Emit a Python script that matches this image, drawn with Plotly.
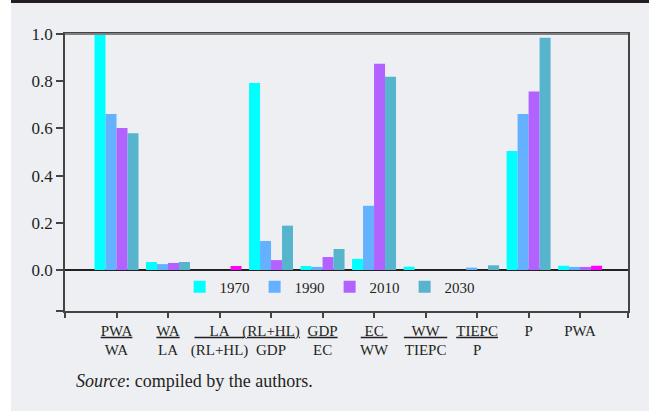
import plotly.graph_objects as go

# ---- data ----
categories = ["PWA/WA", "WA/LA", "LA/(RL+HL)", "(RL+HL)/GDP", "GDP/EC",
              "EC/WW", "WW/TIEPC", "TIEPC/P", "P", "PWA"]
tick_labels = [
    "<u>PWA</u><br>WA",
    "<u>WA</u><br>LA",
    "<u>&nbsp;&nbsp;&nbsp;&nbsp;LA&nbsp;&nbsp;&nbsp;&nbsp;</u><br>(RL+HL)",
    "<u>(RL+HL)</u><br>GDP",
    "<u>GDP</u><br>EC",
    "<u>&nbsp;EC&nbsp;</u><br>WW",
    "<u>&nbsp;&nbsp;WW&nbsp;&nbsp;</u><br>TIEPC",
    "<u>TIEPC</u><br>P",
    "P",
    "PWA",
]
years = ["1970", "1990", "2010", "2030"]
v1970 = [1.000, 0.034, 0.000, 0.792, 0.017, 0.047, 0.014, 0.000, 0.504, 0.018]
v1990 = [0.661, 0.025, 0.000, 0.123, 0.013, 0.272, 0.000, 0.010, 0.661, 0.013]
v2010 = [0.602, 0.030, 0.000, 0.042, 0.055, 0.874, 0.000, 0.000, 0.756, 0.013]
v2030 = [0.579, 0.034, 0.017, 0.188, 0.089, 0.819, 0.000, 0.020, 0.984, 0.018]
series = [v1970, v1990, v2010, v2030]
y_ticks = [0.0, 0.2, 0.4, 0.6, 0.8, 1.0]

# ---- style ----
colors = ["#00FFFF", "#63B1FF", "#B262FF", "#56B4CD"]
highlight = "#FF00FF"
highlight_idx = [2, 9]      # bars of the 2030 series drawn in magenta
bg = "#EEEFF3"
ink = "#231F20"
FONT = "Liberation Serif, Times New Roman, serif"

W, H = 649, 411
L, R, T, B = 65, 628, 34, 311
ymin = -0.1737
xmax = 10.93

xpos = list(range(1, len(categories) + 1))

fig = go.Figure()
for k, (name, vals) in enumerate(zip(years, series)):
    if k == 3:
        mc = [highlight if i in highlight_idx else colors[k] for i in range(len(vals))]
    else:
        mc = colors[k]
    fig.add_trace(go.Bar(x=xpos, y=vals, name=name,
                         marker=dict(color=mc, line=dict(width=0))))

def px_x(px):
    return (px - L) / (R - L)

def px_y(py):
    return (B - py) / (B - T)

shapes = [
    # grey page panel
    dict(type="rect", xref="paper", yref="paper", layer="below",
         x0=px_x(11), x1=px_x(W + 2), y0=px_y(H + 2), y1=px_y(3),
         fillcolor=bg, line=dict(width=0)),
    # top dark rule
    dict(type="rect", xref="paper", yref="paper", layer="below",
         x0=px_x(11), x1=px_x(W + 2), y0=px_y(3), y1=px_y(0),
         fillcolor=ink, line=dict(width=0)),
    # grey top frame line
    dict(type="line", xref="paper", yref="paper", layer="above",
         x0=0, x1=1, y0=1, y1=1, line=dict(color="#808080", width=2)),
]

fig.update_layout(
    width=W, height=H,
    margin=dict(l=L, r=W - R, t=T, b=H - B, autoexpand=False),
    paper_bgcolor="white",
    plot_bgcolor=bg,
    barmode="group", bargap=0.146, bargroupgap=0,
    font=dict(family=FONT, size=15, color=ink),
    showlegend=True,
    legend=dict(orientation="h", x=0.47, xanchor="center",
                y=px_y(287), yanchor="middle",
                bgcolor="rgba(0,0,0,0)", font=dict(size=15, color=ink),
                itemwidth=30, traceorder="normal"),
    shapes=shapes,
    annotations=[dict(text="<i>Source</i>: compiled by the authors.",
                      xref="paper", yref="paper", x=px_x(74), y=px_y(381),
                      xanchor="left", yanchor="middle", showarrow=False,
                      font=dict(family=FONT, size=18, color=ink))],
)

fig.update_xaxes(
    range=[0, xmax], tickmode="array",
    tickvals=[0] + xpos + [xmax], ticktext=[""] + tick_labels + [""],
    tickangle=0, automargin=False,
    ticks="outside", ticklen=5, tickcolor="#444", tickwidth=1.5,
    showline=True, linecolor="#444", linewidth=1.5, mirror=True,
    showgrid=False, zeroline=False,
    tickfont=dict(family=FONT, size=15, color=ink),
)
fig.update_yaxes(
    range=[ymin, 1.0], tickmode="array",
    tickvals=[ymin] + y_ticks,
    ticktext=[""] + [f"{v:.1f}" for v in y_ticks],
    automargin=False,
    ticks="outside", ticklen=7, tickcolor="#444", tickwidth=1.5,
    showline=True, linecolor="#444", linewidth=1.5, mirror=True,
    showgrid=False, zeroline=True, zerolinecolor="#222", zerolinewidth=2,
    tickfont=dict(family=FONT, size=17, color=ink),
)

fig.write_html("out.html", config={"displayModeBar": False},
               post_script="document.body.style.margin='0';document.body.style.overflow='hidden';")
